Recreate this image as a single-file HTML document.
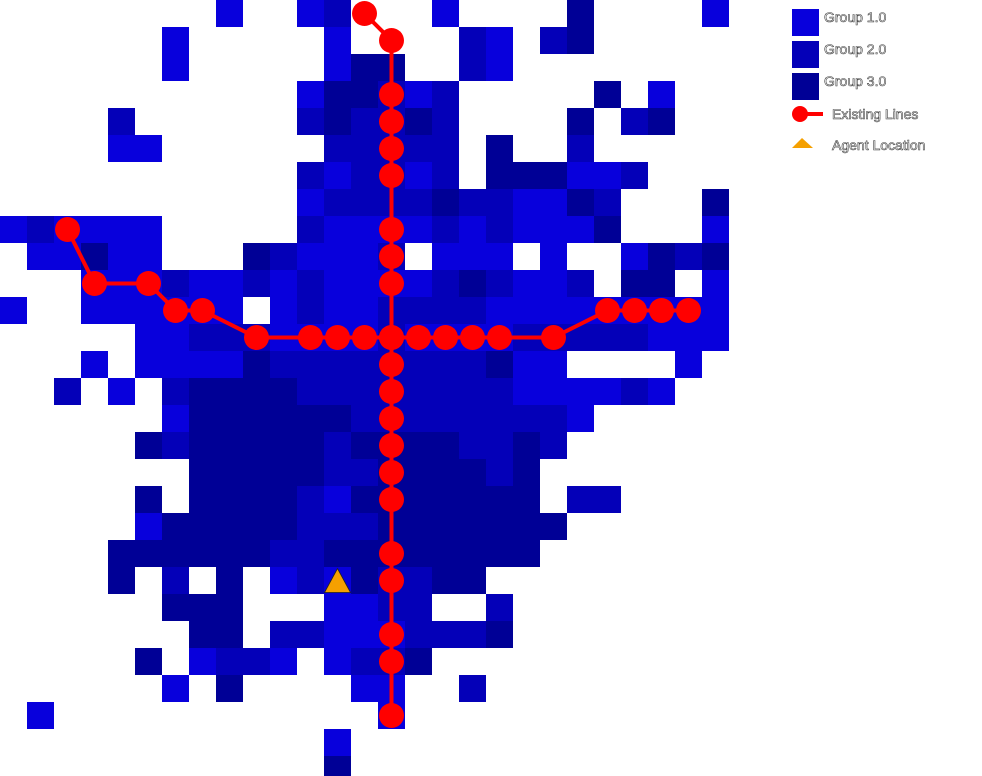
<!DOCTYPE html>
<html><head><meta charset="utf-8"><style>
html,body{margin:0;padding:0;background:#fff;}
svg{display:block;}
.lg{font-family:"Liberation Sans",sans-serif;font-size:14px;fill:#fff;stroke:#444;stroke-width:0.6px;}
</style></head><body>
<svg id="chart" width="982" height="776" viewBox="0 0 982 776" xmlns="http://www.w3.org/2000/svg">
<g id="cells"></g>
<g id="lines"></g>
<g id="agent"></g>
<g id="legend">
 <rect x="792" y="9" width="27" height="27" fill="#0800dc"/>
 <text class="lg" x="824" y="22">Group 1.0</text>
 <rect x="792" y="41" width="27" height="27" fill="#0400b8"/>
 <text class="lg" x="824" y="54">Group 2.0</text>
 <rect x="792" y="73" width="27" height="27" fill="#000096"/>
 <text class="lg" x="824" y="86">Group 3.0</text>
 <line x1="800" y1="114" x2="823" y2="114" stroke="#ff0000" stroke-width="4"/>
 <circle cx="800" cy="114" r="8" fill="#ff0000"/>
 <text class="lg" x="832" y="119">Existing Lines</text>
 <polygon points="792,148 802,138 813,148" fill="#f5a000"/>
 <text class="lg" x="832" y="150">Agent Location</text>
</g>
</svg>
<script>
// grid rows: each string is one row, '.' empty, 1..3 group
const gridRows = [
"........1..12...1....3....1",
"......1.....1....21.23.....",
"......1.....133..21........",
"...........133212.....3.1..",
"....2......232232....3.23..",
"....11......22222.3..2.....",
"...........212212.333112...",
"...........122223221132...3",
"121111.....211112121113...1",
".11311...321112.111.1..1323",
"...1112112121111232112.33.1",
"1..111111.12112222111111111",
".....1122211112111122222111",
"...1.1111322222222311....1.",
"..2.1.233332222222211112 1".replace(' ',''),
"......1333333222222221",
".....3233333233332232",
".......3333322333323",
".....3.3333213333333.22",
".....1333332223333333",
"....3333332233333333",
"....3.2.3.12132233",
"......333...1122..2",
".......33.221112223",
".....3.1221.1223",
"......1.3....11..2",
".1............1",
"............1",
"............3"
];
const groupColors = ["", "#0800dc", "#0400b8", "#000096"];
// existing lines: [col,row] grid positions
const verticalLineCols = [13,14,14,14,14,14,14,14,14,14,14,14,14,14,14,14,14,14,14,14,14];
const verticalLineRows = [0,1,3,4,5,6,8,9,10,12,13,14,15,16,17,18,20,21,23,24,26];
const horizLineCols = [2,3,5,6,7,9,11,12,13,14,15,16,17,18,20,22,23,24,25];
const horizLineRows = [8,10,10,11,11,12,12,12,12,12,12,12,12,12,12,11,11,11,11];
const agentCol = [12];
const agentRow = [21];

const CELL = 27;
const xs = c => c * CELL;
const ys = r => r * CELL;
const cx = c => c * CELL + CELL / 2;
const cy = r => r * CELL + CELL / 2;
const NS = "http://www.w3.org/2000/svg";

const cellsG = document.getElementById('cells');
gridRows.forEach((row, r) => {
  for (let c = 0; c < row.length; c++) {
    const v = parseInt(row[c]);
    if (!v) continue;
    const el = document.createElementNS(NS, 'rect');
    el.setAttribute('x', xs(c)); el.setAttribute('y', ys(r));
    el.setAttribute('width', CELL); el.setAttribute('height', CELL);
    el.setAttribute('fill', groupColors[v]);
    
    
    cellsG.appendChild(el);
  }
});

const linesG = document.getElementById('lines');
function drawLine(cols, rows, name) {
  const pts = cols.map((c, i) => cx(c) + ',' + cy(rows[i])).join(' ');
  const pl = document.createElementNS(NS, 'polyline');
  pl.setAttribute('points', pts);
  pl.setAttribute('fill', 'none'); pl.setAttribute('stroke', '#ff0000'); pl.setAttribute('stroke-width', '4');
  
  
  linesG.appendChild(pl);
  cols.forEach((c, i) => {
    const ci = document.createElementNS(NS, 'circle');
    ci.setAttribute('cx', cx(c)); ci.setAttribute('cy', cy(rows[i])); ci.setAttribute('r', 12.5);
    ci.setAttribute('fill', '#ff0000');
    
    
    linesG.appendChild(ci);
  });
}
drawLine(verticalLineCols, verticalLineRows, 'vertical-line');
drawLine(horizLineCols, horizLineRows, 'horizontal-line');

const agentG = document.getElementById('agent');
agentCol.forEach((c, i) => {
  const x = cx(c), y = cy(agentRow[i]);
  const p = document.createElementNS(NS, 'polygon');
  p.setAttribute('points', (x-13)+','+(y+12)+' '+x+','+(y-12)+' '+(x+13)+','+(y+12));
  p.setAttribute('fill', '#f5a000');
  p.setAttribute('stroke', '#222'); p.setAttribute('stroke-width', '0.8');
  
  
  agentG.appendChild(p);
});
</script>
</body></html>
